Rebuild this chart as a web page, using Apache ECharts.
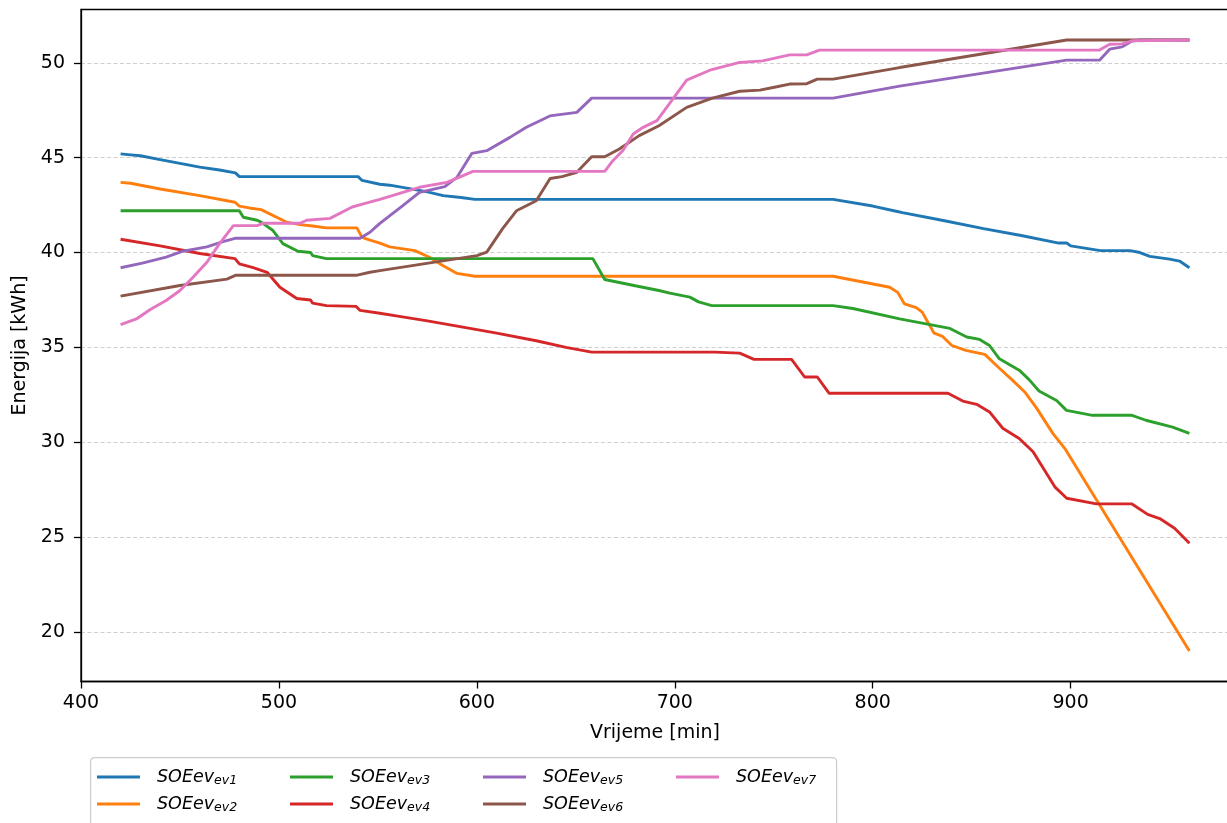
<!DOCTYPE html>
<html>
<head>
<meta charset="utf-8">
<script src="https://cdn.jsdelivr.net/npm/echarts@6/dist/echarts.min.js"></script>
<style>
  html, body { margin: 0; padding: 0; background: #fff; }
  #chart { width: 1227px; height: 823px; }
</style>
</head>
<body>
<div id="chart"></div>
<script>
// tick labels
var xTicks = [400, 500, 600, 700, 800, 900]
var yTicks = [20, 25, 30, 35, 40, 45, 50]

// SOE curves, [vrijeme, energija]
var ev1 = [[420,45.2],[425,45.15],[430,45.1],[440,44.9],[450,44.7],[460,44.5],[470,44.35],[478,44.2],[480,44.0],[540,44.0],[542,43.8],[551,43.6],[556,43.55],[566,43.37],[575,43.2],[583,43.0],[592,42.9],[599,42.8],[780,42.8],[800,42.45],[813,42.15],[815,42.1],[835,41.7],[856,41.26],[875,40.9],[894,40.5],[898,40.5],[900,40.35],[915,40.1],[930,40.1],[935,40.0],[940,39.8],[950,39.65],[955,39.55],[960,39.2]]
var ev2 = [[420,43.7],[425,43.65],[440,43.35],[460,43.0],[477.8,42.65],[480,42.45],[485,42.35],[491,42.26],[504,41.6],[510.6,41.47],[517,41.4],[524,41.3],[539.4,41.3],[542,40.8],[546,40.65],[551,40.5],[556,40.3],[568.7,40.1],[576,39.75],[583,39.3],[590,38.9],[599,38.75],[780,38.75],[808.6,38.17],[812.6,37.9],[816,37.3],[822,37.1],[825,36.86],[831,35.75],[835,35.6],[840,35.1],[847,34.84],[856.6,34.63],[860,34.3],[864,33.9],[870.7,33.26],[876.8,32.65],[882.8,31.8],[891,30.47],[897,29.68],[960,19.0]]
var ev3 = [[420,42.2],[480,42.2],[482,41.86],[489,41.7],[491,41.6],[497,41.16],[502,40.47],[509.6,40.07],[516,40.0],[517,39.84],[524,39.68],[658.6,39.68],[664.6,38.58],[680,38.25],[692,38.0],[697.5,37.86],[707.6,37.65],[712,37.4],[718.7,37.2],[780,37.2],[790,37.05],[813.6,36.5],[839,36.0],[847.5,35.55],[854,35.42],[859,35.1],[864,34.4],[874,33.8],[879,33.3],[884,32.7],[892.9,32.2],[897.9,31.68],[911,31.42],[931,31.42],[938,31.16],[951.5,30.8],[960,30.47]]
var ev4 = [[420,40.7],[440,40.35],[460,39.95],[477.8,39.68],[480,39.4],[487,39.2],[494,38.96],[500.5,38.17],[509,37.58],[516,37.5],[517,37.33],[524,37.2],[539,37.16],[541,36.95],[551,36.8],[560,36.65],[575,36.4],[596.5,36.0],[610,35.75],[630,35.35],[645,35.0],[658,34.75],[720,34.75],[732.8,34.7],[740,34.37],[759,34.37],[765.6,33.44],[772,33.44],[778,32.58],[838,32.58],[845.5,32.17],[852.5,32.0],[859,31.6],[865.7,30.74],[874,30.2],[881,29.5],[892,27.65],[898,27.05],[913,26.75],[931,26.75],[938.9,26.2],[945,25.98],[952.5,25.47],[960,24.68]]
var ev5 = [[420,39.2],[431,39.44],[443,39.76],[451.5,40.07],[463.6,40.3],[471.7,40.58],[477.8,40.75],[541,40.75],[546,41.07],[551,41.54],[562.6,42.47],[571,43.17],[583.8,43.47],[589.9,43.96],[597.5,45.23],[605,45.37],[616.7,46.07],[625,46.6],[636.9,47.2],[650.5,47.39],[658,48.14],[780,48.14],[813.6,48.77],[898,50.14],[914.6,50.14],[919.7,50.72],[926,50.84],[931,51.15],[935,51.2],[960,51.2]]
var ev6 = [[420,37.7],[450,38.26],[473.7,38.6],[478,38.8],[539,38.8],[546,38.96],[551,39.05],[600,39.84],[605,40.02],[613,41.26],[620,42.2],[630,42.73],[637,43.9],[643,44.0],[650.5,44.23],[658,45.05],[664.6,45.05],[672,45.46],[682,46.16],[692,46.68],[706,47.65],[719,48.14],[732.8,48.5],[743,48.56],[751.5,48.74],[758,48.88],[766.7,48.9],[772,49.14],[780,49.14],[813.6,49.75],[898,51.2],[960,51.2]]
var ev7 = [[420,36.2],[428,36.5],[435,37.0],[443,37.47],[450,38.0],[456.6,38.7],[463.6,39.49],[470,40.47],[477,41.42],[489,41.42],[492,41.54],[510.6,41.54],[514,41.7],[525.8,41.8],[537,42.4],[544,42.6],[551,42.8],[571,43.44],[584.8,43.7],[591,43.96],[598,44.28],[664.6,44.28],[668.7,44.84],[673.7,45.37],[679,46.25],[684,46.6],[691,46.95],[706,49.09],[717.7,49.61],[732.8,50.02],[744.4,50.1],[758,50.42],[766.7,50.42],[773,50.67],[914.6,50.67],[919.7,50.98],[926,51.0],[931,51.16],[960,51.2]]

var names = ['ev1', 'ev2', 'ev3', 'ev4', 'ev5', 'ev6', 'ev7']
var curves = [ev1, ev2, ev3, ev4, ev5, ev6, ev7]
var colors = ['#1f77b4', '#ff7f0e', '#2ca02c', '#d62728', '#9467bd', '#8c564b', '#e377c2']

var font = 'DejaVu Sans'
var myChart = echarts.init(document.getElementById('chart'))

var series = []
for (let i = 0; i < names.length; i++) {
  series.push({
    name: names[i],
    type: 'line',
    data: curves[i],
    showSymbol: false,
    symbol: 'none',
    lineStyle: { width: 2.9, color: colors[i] },
    itemStyle: { color: colors[i] },
    animation: false
  })
}

// legend: two rows, filled column by column like matplotlib (ncol=4)
var legends = []
for (let i = 0; i < names.length; i++) {
  let col = Math.floor(i / 2), row = i % 2
  legends.push({
    data: [names[i]],
    left: 97 + col * 193,
    top: 759 + row * 27,
    padding: 0,
    icon: 'rect',
    itemWidth: 43,
    itemHeight: 3,
    selectedMode: false,
    formatter: function (name) { return '{a|SOEev}{b|' + name + '}' },
    textStyle: {
      fontFamily: font,
      color: '#000',
      rich: {
        a: { fontFamily: font, fontStyle: 'italic', fontSize: 17.5, lineHeight: 20, padding: [0, 0, 0, 12], verticalAlign: 'middle', color: '#000' },
        b: { fontFamily: font, fontStyle: 'italic', fontSize: 12.5, lineHeight: 13, padding: [15, 0, 0, 0], verticalAlign: 'bottom', color: '#000' }
      }
    }
  })
}

let option = {
  animation: false,
  backgroundColor: '#fff',
  grid: {
    left: 81,
    right: -2,
    top: 9.5,
    bottom: 141.5,
    show: true,
    borderColor: '#000',
    borderWidth: 1.3,
    outerBoundsMode: 'none',
    containLabel: false
  },
  graphic: [{
    type: 'rect',
    left: 90,
    top: 757,
    shape: { width: 746, height: 90, r: 4 },
    style: { fill: '#fff', stroke: '#cccccc', lineWidth: 1.2 },
    z: 0
  }],
  legend: legends,
  xAxis: {
    type: 'value',
    min: 400,
    max: 980,
    name: 'Vrijeme [min]',
    nameLocation: 'middle',
    nameGap: 42,
    nameTextStyle: { fontFamily: font, fontSize: 19, color: '#000' },
    axisLine: { show: true, onZero: false, lineStyle: { color: '#000', width: 1.3 } },
    axisTick: { show: true, length: 7, lineStyle: { color: '#000', width: 1.3 }, customValues: xTicks },
    axisLabel: { fontFamily: font, fontSize: 19, color: '#000', margin: 12, customValues: xTicks },
    splitLine: { show: false }
  },
  yAxis: {
    type: 'value',
    min: 17.39,
    max: 52.81,
    name: 'Energija [kWh]',
    nameLocation: 'middle',
    nameGap: 50,
    nameRotate: 90,
    nameTextStyle: { fontFamily: font, fontSize: 19, color: '#000' },
    axisLine: { show: true, onZero: false, lineStyle: { color: '#000', width: 1.3 } },
    axisTick: { show: true, length: 7, lineStyle: { color: '#000', width: 1.3 }, customValues: yTicks },
    axisLabel: { fontFamily: font, fontSize: 19, color: '#000', margin: 16, customValues: yTicks },
    splitLine: { show: true, lineStyle: { color: '#cfcfcf', width: 1, type: [4, 2.5] } }
  },
  series: series
}
myChart.setOption(option)
</script>
</body>
</html>
